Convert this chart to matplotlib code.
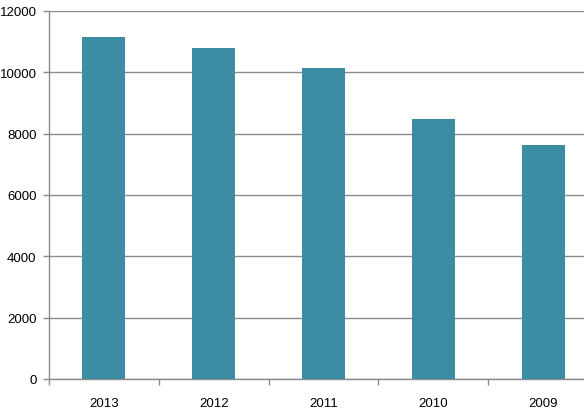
import numpy as np
import matplotlib.pyplot as plt

plt.rcParams['font.family'] = ['Liberation Sans', 'DejaVu Sans']

years = ['2013', '2012', '2011', '2010', '2009']
values = [11160, 10790, 10150, 8480, 7620]

bar_color = '#3c8ca3'
grid_color = '#8c8c8c'

fig = plt.figure(figsize=(5.84, 4.14), dpi=100)
ax = fig.add_axes([49/584, 34/414, 549/584, 368/414])

x = np.arange(len(years))
ax.bar(x, values, width=0.39, color=bar_color, zorder=3)

ax.set_xlim(-0.5, len(years) - 0.5)
ax.set_ylim(0, 12000)
ax.set_yticks(np.arange(0, 12001, 2000))
ax.yaxis.grid(True, color=grid_color, linewidth=1, zorder=0)

# category labels centred, ticks on boundaries
ax.set_xticks(x)
ax.set_xticklabels(years)
ax.set_xticks(np.arange(-0.5, len(years)), minor=True)
ax.tick_params(axis='x', which='major', length=0, pad=13, labelsize=9.5)
ax.tick_params(axis='x', which='minor', length=4, color=grid_color, width=1)
ax.tick_params(axis='y', length=4, color=grid_color, width=1, labelsize=9.5, pad=5)

for side in ['top', 'right']:
    ax.spines[side].set_visible(False)
for side in ['left', 'bottom']:
    ax.spines[side].set_color(grid_color)
    ax.spines[side].set_linewidth(1)

plt.savefig('out.png', dpi=100)
plt.close()
